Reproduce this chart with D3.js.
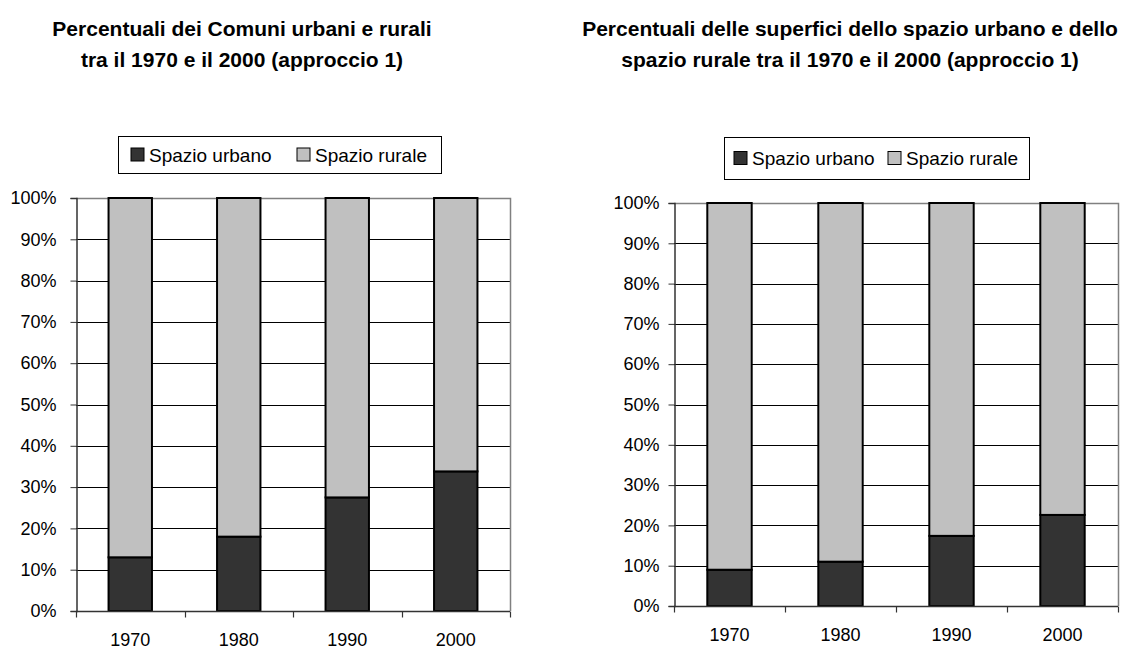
<!DOCTYPE html>
<html>
<head>
<meta charset="utf-8">
<script src="https://cdn.jsdelivr.net/npm/d3@7"></script>
<style>
  html, body { margin: 0; padding: 0; background: #fff; }
  svg { display: block; font-family: "Liberation Sans", Arial, sans-serif; }
</style>
</head>
<body>
<svg id="chart" width="1127" height="648"></svg>
<script>
// Years shown on both charts
const years = ["1970", "1980", "1990", "2000"];
const seriesNames = ["Spazio urbano", "Spazio rurale"];
const yTicks = [0, 10, 20, 30, 40, 50, 60, 70, 80, 90, 100];

// Share of urban / rural municipalities (%)
const comuniUrbano = [13, 18, 27.5, 33.8];
const comuniRurale = [87, 82, 72.5, 66.2];

// Share of urban / rural surface area (%)
const superficiUrbano = [9, 11, 17.4, 22.6];
const superficiRurale = [91, 89, 82.6, 77.4];

const colors = { "Spazio urbano": "#333333", "Spazio rurale": "#c0c0c0" };

const svg = d3.select("#chart");

function drawChart(opt) {
  const g = svg.append("g");

  // Title (two lines, bold)
  const title = g.append("text")
    .attr("text-anchor", "middle")
    .attr("font-weight", "bold")
    .attr("font-size", opt.titleSize)
    .attr("fill", "#000");
  opt.title.forEach((line, i) => {
    title.append("tspan")
      .attr("x", opt.titleX)
      .attr("y", opt.titleY + i * 31)
      .text(line);
  });

  const x = d3.scaleBand()
    .domain(years)
    .range([opt.left, opt.right])
    .paddingInner(0.6)
    .paddingOuter(0.3);
  const y = d3.scaleLinear().domain([0, 100]).range([opt.bottom, opt.top]);

  // Horizontal gridlines
  g.append("g")
    .selectAll("line")
    .data(yTicks.filter(t => t > 0 && t < 100))
    .join("line")
    .attr("x1", opt.left).attr("x2", opt.right)
    .attr("y1", d => Math.round(y(d)) + 0.5).attr("y2", d => Math.round(y(d)) + 0.5)
    .attr("stroke", "#000").attr("stroke-width", 1);

  // Plot frame: top and right edges in grey
  g.append("path")
    .attr("d", `M${opt.left},${Math.round(y(100)) + 0.5}H${opt.right + 0.5}V${opt.bottom}`)
    .attr("fill", "none").attr("stroke", "#808080").attr("stroke-width", 1.5);

  // Stacked bars
  const stackData = years.map((yr, i) => ({
    year: yr,
    "Spazio urbano": opt.urbano[i],
    "Spazio rurale": opt.rurale[i]
  }));
  const stacked = d3.stack().keys(seriesNames)(stackData);
  g.append("g")
    .selectAll("g")
    .data(stacked)
    .join("g")
    .attr("fill", d => colors[d.key])
    .selectAll("rect")
    .data(d => d)
    .join("rect")
    .attr("x", d => x(d.data.year))
    .attr("width", x.bandwidth())
    .attr("y", d => y(d[1]))
    .attr("height", d => y(d[0]) - y(d[1]))
    .attr("stroke", "#000")
    .attr("stroke-width", 2);

  // Y axis
  const yAxis = d3.axisLeft(y)
    .tickValues(yTicks)
    .tickFormat(d => d + "%")
    .tickSize(6)
    .tickPadding(opt.yPad);
  const ya = g.append("g")
    .attr("transform", `translate(${opt.left + 0.5},0)`)
    .call(yAxis);
  ya.select(".domain").attr("stroke", "#333").attr("stroke-width", 1.5);
  ya.selectAll(".tick line").attr("stroke", "#333");
  ya.selectAll(".tick text")
    .attr("font-size", 18).attr("fill", "#000")
    .attr("font-family", "Liberation Sans, Arial, sans-serif");

  // X axis: ticks at category boundaries, labels centred on bars
  const xa = g.append("g")
    .attr("transform", `translate(0,${Math.round(opt.bottom) + 0.5})`);
  xa.append("line")
    .attr("x1", opt.left).attr("x2", opt.right)
    .attr("stroke", "#333").attr("stroke-width", 1.5);
  const step = x.step();
  const bounds = d3.range(years.length + 1).map(i => opt.left + i * step);
  xa.selectAll("line.tk")
    .data(bounds)
    .join("line").attr("class", "tk")
    .attr("x1", d => Math.round(d) + 0.5).attr("x2", d => Math.round(d) + 0.5)
    .attr("y1", 0).attr("y2", 6)
    .attr("stroke", "#333").attr("stroke-width", 1.2);
  xa.selectAll("text")
    .data(years)
    .join("text")
    .attr("x", d => x(d) + x.bandwidth() / 2)
    .attr("y", 34)
    .attr("text-anchor", "middle")
    .attr("font-size", 18)
    .attr("fill", "#000")
    .text(d => d);

  // Legend
  const lg = g.append("g");
  lg.append("rect")
    .attr("x", opt.legend.x + 0.5).attr("y", opt.legend.y + 0.5)
    .attr("width", opt.legend.w).attr("height", opt.legend.h)
    .attr("fill", "#fff").attr("stroke", "#000").attr("stroke-width", 1);
  const cy = opt.legend.y + opt.legend.h / 2;
  const items = lg.selectAll("g.item")
    .data(seriesNames)
    .join("g").attr("class", "item")
    .attr("transform", (d, i) => `translate(${opt.legend.x + opt.legend.itemX[i]},${cy})`);
  items.append("rect")
    .attr("x", 0).attr("y", -6.5)
    .attr("width", 13).attr("height", 13)
    .attr("fill", d => colors[d]).attr("stroke", "#000").attr("stroke-width", 1);
  items.append("text")
    .attr("x", 18).attr("y", 7)
    .attr("font-size", 19).attr("fill", "#000")
    .text(d => d);
}

drawChart({
  title: ["Percentuali dei Comuni urbani e rurali", "tra il 1970 e il 2000 (approccio 1)"],
  titleX: 242, titleY: 36, titleSize: 21,
  left: 76, right: 510, top: 198, bottom: 611,
  yPad: 14,
  urbano: comuniUrbano, rurale: comuniRurale,
  legend: { x: 118, y: 136, w: 323, h: 37, itemX: [13, 179] }
});

drawChart({
  title: ["Percentuali delle superfici dello spazio urbano e dello", "spazio rurale tra il 1970 e il 2000 (approccio 1)"],
  titleX: 850, titleY: 36, titleSize: 21,
  left: 674, right: 1118, top: 203, bottom: 606,
  yPad: 9,
  urbano: superficiUrbano, rurale: superficiRurale,
  legend: { x: 724, y: 137, w: 305, h: 42, itemX: [10, 164] }
});
</script>
</body>
</html>
